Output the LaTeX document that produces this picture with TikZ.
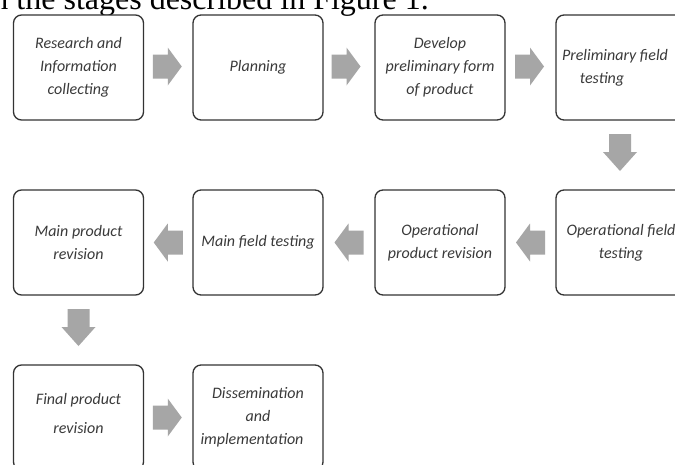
\documentclass[tikz,border=0pt]{standalone}
\usepackage{fontspec}
\setmainfont{Carlito}
\newfontfamily\capfont{Liberation Serif}
\usetikzlibrary{calc}
\definecolor{arrowgray}{HTML}{A6A6A6}
\definecolor{boxline}{HTML}{333333}
\definecolor{textgray}{HTML}{3A3A3A}
\begin{document}
\begin{tikzpicture}[x=1pt,y=-1pt,
  stagebox/.style={draw=boxline, line width=1.3pt, rounded corners=8pt, fill=white,
    minimum width=130pt, minimum height=105pt, inner sep=0pt, align=center,
    text=textgray, font=\fontsize{16}{23}\selectfont\itshape},
  rarr/.pic={\fill[arrowgray] (-14.5,-12) -- (0.5,-12) -- (0.5,-19) -- (14.5,0)
      -- (0.5,19) -- (0.5,12) -- (-14.5,12) -- cycle;},
  larr/.pic={\fill[arrowgray] (14.5,-12) -- (-0.5,-12) -- (-0.5,-19) -- (-14.5,0)
      -- (-0.5,19) -- (-0.5,12) -- (14.5,12) -- cycle;},
  darr/.pic={\fill[arrowgray] (-11,-18) -- (11,-18) -- (11,0) -- (17,0) -- (0,19)
      -- (-17,0) -- (-11,0) -- cycle;}
]
\useasboundingbox (0,0) rectangle (675,464);
\fill[white] (0,0) rectangle (675,464);
\node[anchor=base east, inner sep=0pt, font=\capfont\fontsize{32}{36}\selectfont] (cap) at (429,9) {in the stages described in Figure 1.};
% row 1
\node[stagebox] (r1) at (78.5,67.5) {Research and\\Information\\collecting};
\node[stagebox] (p) at (258,67.5) {Planning};
\node[stagebox] (d) at (440,67.5) {Develop\\preliminary form\\of product};
\node[stagebox] (pf) at (621,67.5) {Preliminary field\hspace*{12pt}\\testing\hspace*{38pt}};
% row 2
\node[stagebox] (mr) at (78.5,242.5) {Main product\\revision};
\node[stagebox] (mf) at (258,242.5) {Main field testing};
\node[stagebox] (opr) at (440,242.5) {Operational\\product revision};
\node[stagebox] (of) at (621,242.5) {Operational field\\testing};
% row 3
\node[stagebox, font=\fontsize{16}{29}\selectfont\itshape] (fr) at (78.5,417.5) {Final product\\revision\\[-21pt]\mbox{}};
\node[stagebox] (di) at (258,417.5) {Dissemination\\and\\implementation\hspace*{12pt}};
% arrows
\coordinate (c1) at ($(r1.east)!0.5!(p.west)+(-1,-1)$);
\coordinate (c2) at ($(p.east)!0.5!(d.west)+(-3,-1)$);
\coordinate (c3) at ($(d.east)!0.5!(pf.west)+(-1,-1)$);
\coordinate (c4) at ($(pf.south)!0.5!(of.north)+(-1,-3)$);
\coordinate (c5) at ($(of.west)!0.5!(opr.east)$);
\coordinate (c6) at ($(opr.west)!0.5!(mf.east)$);
\coordinate (c7) at ($(mf.west)!0.5!(mr.east)$);
\coordinate (c8) at ($(mr.south)!0.5!(fr.north)+(0,-3)$);
\coordinate (c9) at ($(fr.east)!0.5!(di.west)+(-1,0)$);
\pic at (c1) {rarr};
\pic at (c2) {rarr};
\pic at (c3) {rarr};
\pic at (c4) {darr};
\pic at (c5) {larr};
\pic at (c6) {larr};
\pic at (c7) {larr};
\pic at (c8) {darr};
\pic at (c9) {rarr};
\end{tikzpicture}
\end{document}
